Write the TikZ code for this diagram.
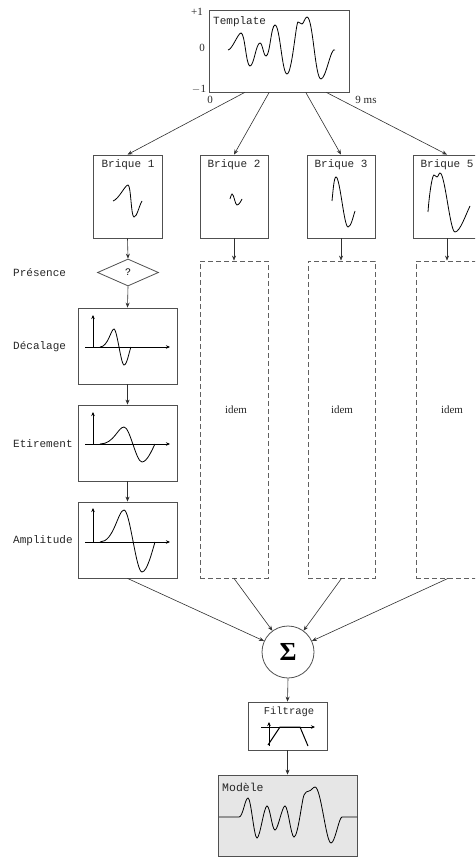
\documentclass[tikz,border=0pt]{standalone}
\usepackage{fontspec}
\setmainfont{Liberation Serif}
\newfontfamily\monof{Liberation Mono}
\usetikzlibrary{arrows.meta,shapes.geometric,calc}
\definecolor{boxc}{HTML}{505050}
\definecolor{linec}{HTML}{303030}
\definecolor{dashc}{HTML}{606060}
\definecolor{modfill}{HTML}{E6E6E6}
\begin{document}
\begin{tikzpicture}[x=1pt,y=-1pt,
  box/.style={draw=boxc, line width=0.8pt, inner sep=0pt, rectangle},
  dbox/.style={draw=dashc, line width=0.8pt, dash pattern=on 5pt off 3pt, inner sep=0pt, rectangle},
  wave/.style={line width=0.8pt, draw=black},
  arr/.style={-{Stealth[length=5pt,width=4pt]}, line width=0.6pt, draw=linec},
  axis/.style={-{Stealth[length=4pt,width=3.5pt]}, line width=0.7pt, draw=black},
  lab/.style={font=\monof\fontsize{11}{12}\selectfont, inner sep=0pt, text=black!85},
  num/.style={font=\fontsize{11}{12}\selectfont, inner sep=0pt, text=black!85}]
\clip (0,0) rectangle (475,858);
% template
\node[box, minimum width=140pt, minimum height=82pt] (tpl) at (279,51) {};
\node[lab, anchor=west] (tpltxt) at (213,22) {Template};
\node[num] (p1) at (197,12) {+1};
\node[num] (z0) at (202,48) {0};
\node[num] (m1) at (199,89) {$-$1};
\node[num] (x0) at (210,100) {0};
\node[num] (x9) at (366,100) {9 ms};
\draw[wave] (228,50) .. controls +(4,0) and +(-3,0) .. (241,33) .. controls +(4,0) and +(-4,0) .. (250,66) .. controls +(4,0) and +(-4,0) .. (260,43) .. controls +(2.5,0) and +(-2.5,0) .. (266,56) .. controls +(4,0) and +(-4,0) .. (275,25) .. controls +(5,0) and +(-5,0) .. (287,74) .. controls +(5,0) and +(-2,0) .. (298,22) .. controls +(1.5,0) and +(-1.5,0) .. (302,24) .. controls +(1.5,0) and +(-2,0) .. (307,17) .. controls +(6,0) and +(-6,0) .. (321,79) .. controls +(5,0) and +(-4,-4) .. (335,50);
\coordinate (t1) at ($(tpl.south west)!0.257!(tpl.south east)$);
\coordinate (t2) at ($(tpl.south west)!0.43!(tpl.south east)$);
\coordinate (t3) at ($(tpl.south west)!0.69!(tpl.south east)$);
\coordinate (t4) at ($(tpl.south west)!0.836!(tpl.south east)$);
% briques
\node[box, minimum width=69pt, minimum height=83pt] (b1) at (127.5,196.5) {};
\node[box, minimum width=68pt, minimum height=83pt] (b2) at (234,196.5) {};
\node[box, minimum width=68pt, minimum height=83pt] (b3) at (341,196.5) {};
\node[box, minimum width=68pt, minimum height=83pt] (b5) at (447,196.5) {};
\node[lab] (b1t) at (128,165) {Brique 1};
\node[lab] (b2t) at (234,165) {Brique 2};
\node[lab] (b3t) at (341,165) {Brique 3};
\node[lab] (b5t) at (447,165) {Brique 5};
\draw[wave] (113,201) .. controls +(6,-2) and +(-3,0) .. (128,185) .. controls +(3,0) and +(-3,0) .. (134,217) .. controls +(3,0) and +(-3,5) .. (142,201);
\draw[wave] (230,199) .. controls +(1,-2) and +(-1,0) .. (232,194) .. controls +(2,0) and +(-2,0) .. (237,205) .. controls +(2,0) and +(-1,2) .. (242,199);
\draw[wave] (332,201) .. controls +(1,-10) and +(-2,0) .. (336,177) .. controls +(4,0) and +(-4,0) .. (348,227) .. controls +(3,0) and +(-2,6) .. (355,211);
\draw[wave] (428,212) .. controls +(1,-15) and +(-2,0) .. (434,175) .. controls +(1,0) and +(-1,0) .. (437,177) .. controls +(1,0) and +(-1,0) .. (440,173) .. controls +(5,0) and +(-5,0) .. (455,232) .. controls +(5,0) and +(-4,8) .. (470,206);
\draw[arr] (t1) -- (b1.north);
\draw[arr] (t2) -- (b2.north);
\draw[arr] (t3) -- (b3.north);
\draw[arr] (t4) -- (b5.north);
% presence
\node[diamond, draw=boxc, line width=0.8pt, inner sep=0pt, aspect=2.26, minimum width=61pt, minimum height=27pt, font=\monof\fontsize{10}{12}\selectfont] (pres) at (128,272.5) {?};
\node[lab, anchor=west] (prest) at (13,273) {Présence};
% chain
\node[box, minimum width=99pt, minimum height=76pt] (dec) at (127.5,346) {};
\node[box, minimum width=99pt, minimum height=76pt] (eti) at (127.5,443) {};
\node[box, minimum width=99pt, minimum height=76pt] (amp) at (127.5,540) {};
\node[lab, anchor=west] (dect) at (13,347) {Décalage};
\node[lab, anchor=west] (etit) at (13,444) {Etirement};
\node[lab, anchor=west] (ampt) at (13,541) {Amplitude};
\draw[axis] (93,347) -- (93,315);
\draw[axis] (85,347) -- (170,347);
\draw[wave] (100,347) .. controls +(8,0) and +(-3,0) .. (114,329) .. controls +(3,0) and +(-3,0) .. (124,365) .. controls +(3,0) and +(-2,5) .. (131,347);
\draw[axis] (93,444) -- (93,412);
\draw[axis] (85,444) -- (170,444);
\draw[wave] (100,444) .. controls +(14,0) and +(-6,0) .. (124,427) .. controls +(6,0) and +(-6,0) .. (142,462) .. controls +(5,0) and +(-3,6) .. (155,444);
\draw[axis] (93,542) -- (93,508);
\draw[axis] (85,542) -- (170,542);
\draw[wave] (100,542) .. controls +(14,0) and +(-6,0) .. (124,510) .. controls +(6,0) and +(-6,0) .. (142,572) .. controls +(5,0) and +(-3,10) .. (155,542);
\draw[arr] (b1.south) -- (pres.north);
\draw[arr] (pres.south) -- (dec.north);
\draw[arr] (dec.south) -- (eti.north);
\draw[arr] (eti.south) -- (amp.north);
% dashed columns
\node[dbox, minimum width=68pt, minimum height=317pt] (d2) at (234,419.5) {};
\node[dbox, minimum width=67pt, minimum height=317pt] (d3) at (341.5,419.5) {};
\node[dbox, minimum width=68pt, minimum height=317pt] (d5) at (450,419.5) {};
\node[num] (i2) at (236,410) {idem};
\node[num] (i3) at (342,410) {idem};
\node[num] (i5) at (452,410) {idem};
\draw[arr] (b2.south) -- (b2.south |- d2.north);
\draw[arr] (b3.south) -- (b3.south |- d3.north);
\draw[arr] (b5.south) -- (b5.south |- d5.north);
% sum
\node[circle, draw=boxc, line width=0.8pt, minimum size=52pt, inner sep=0pt, font=\fontsize{26}{26}\selectfont\bfseries] (sig) at (288,652) {Σ};
\draw[arr] (amp.south) -- (sig);
\draw[arr] (d2.south) -- (sig);
\draw[arr] (d3.south) -- (sig);
\draw[arr] ($(d5.south)+(-2,0)$) -- (sig);
% filtrage
\node[box, minimum width=79pt, minimum height=48pt] (fil) at (287.5,726) {};
\node[lab, font=\monof\fontsize{10.5}{12}\selectfont] (filt) at (289,712) {Filtrage};
\draw[axis, line width=0.6pt] (261,727) -- (315,727);
\draw[axis, line width=0.6pt] (269,746) -- (269,722);
\draw[line width=1pt] (268,745) -- (280,727) -- (300,727) -- (308,746);
\draw[arr] (sig.south) -- (fil.north);
% modele
\node[box, fill=modfill, minimum width=139pt, minimum height=81pt] (mod) at (287.5,815.5) {};
\node[lab, anchor=west, font=\monof\fontsize{11.5}{12}\selectfont] (modt) at (222,787) {Modèle};
\draw[wave] (219,817) -- (239,817) .. controls +(4,0) and +(-3,0) .. (248,798) .. controls +(3,0) and +(-3,0) .. (257,838) .. controls +(3,0) and +(-3,0) .. (267,806) .. controls +(3,0) and +(-3,0) .. (275,830) .. controls +(3,0) and +(-3,0) .. (285,806) .. controls +(3,0) and +(-3,0) .. (294,837) .. controls +(4,0) and +(-2,4) .. (304,795) .. controls +(2,-3) and +(-2,0) .. (309,791) .. controls +(2,0) and +(-2,0) .. (315,787) .. controls +(6,0) and +(-5,0) .. (331,843) .. controls +(4,0) and +(-3,0) .. (342,817) -- (357,817);
\draw[arr] (fil.south) -- (mod.north);
\end{tikzpicture}
\end{document}
